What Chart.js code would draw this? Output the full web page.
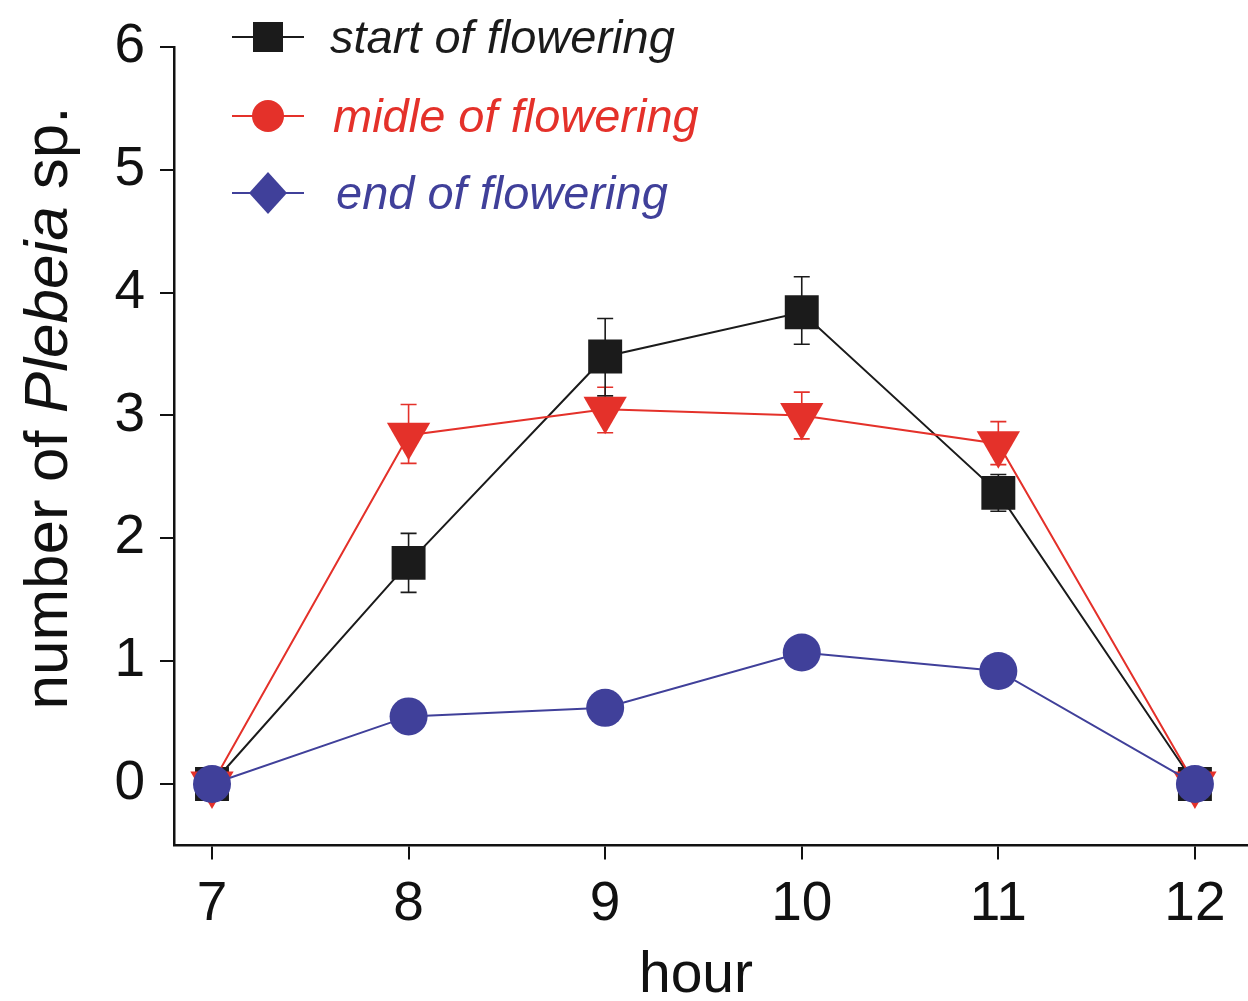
<!DOCTYPE html>
<html>
<head>
<meta charset="utf-8">
<script src="https://cdn.jsdelivr.net/npm/chart.js@4"></script>
<style>
html,body{margin:0;padding:0;background:#fff;}
#wrap{width:1248px;height:1001px;}
</style>
</head>
<body>
<div id="wrap"><canvas id="c" width="1248" height="1001"></canvas></div>
<script>
// ---- data ----
const hours = [7, 8, 9, 10, 11, 12];
const xTickValues = [7, 8, 9, 10, 11, 12];
const yTickValues = [0, 1, 2, 3, 4, 5, 6];

const seriesNames = ['start of flowering', 'midle of flowering', 'end of flowering'];

const startVals = [0, 1.80, 3.48, 3.84, 2.37, 0];
const startLow  = [0, 1.56, 3.16, 3.58, 2.22, 0];
const startHigh = [0, 2.04, 3.79, 4.13, 2.52, 0];

const midVals = [0, 2.84, 3.05, 3.00, 2.77, 0];
const midLow  = [0, 2.61, 2.86, 2.81, 2.60, 0];
const midHigh = [0, 3.09, 3.23, 3.19, 2.95, 0];

const endVals = [0, 0.55, 0.62, 1.07, 0.92, 0];

const xTitle = 'hour';

// ---- style ----
const BLACK = '#1b1b1b', RED = '#e4312a', BLUE = '#40409a';
const FONT = '"Liberation Sans", Arial, Helvetica, sans-serif';

function pts(vals) { return hours.map((h, i) => ({ x: h, y: vals[i] })); }

const errorBars = {
  id: 'errorBars',
  beforeDatasetsDraw(chart) {
    const ctx = chart.ctx, xs = chart.scales.x, ys = chart.scales.y;
    chart.data.datasets.forEach(ds => {
      if (!ds.errLow) return;
      ctx.save();
      ctx.strokeStyle = ds.borderColor;
      ctx.lineWidth = 1.6;
      hours.forEach((h, i) => {
        const lo = ds.errLow[i], hi = ds.errHigh[i];
        if (lo === hi) return;
        const px = xs.getPixelForValue(h);
        const y1 = ys.getPixelForValue(lo), y2 = ys.getPixelForValue(hi);
        ctx.beginPath();
        ctx.moveTo(px, y1); ctx.lineTo(px, y2);
        ctx.moveTo(px - 8, y1); ctx.lineTo(px + 8, y1);
        ctx.moveTo(px - 8, y2); ctx.lineTo(px + 8, y2);
        ctx.stroke();
      });
      ctx.restore();
    });
  }
};

const decorations = {
  id: 'decorations',
  afterDraw(chart) {
    const ctx = chart.ctx;
    ctx.save();
    // legend
    const rows = [
      { y: 37, color: BLACK, text: seriesNames[0], tx: 330, marker: 'square' },
      { y: 116, color: RED, text: seriesNames[1], tx: 333, marker: 'circle' },
      { y: 193, color: BLUE, text: seriesNames[2], tx: 336, marker: 'diamond' }
    ];
    rows.forEach(r => {
      ctx.strokeStyle = r.color; ctx.fillStyle = r.color; ctx.lineWidth = 2;
      ctx.beginPath(); ctx.moveTo(232, r.y); ctx.lineTo(304, r.y); ctx.stroke();
      const cx = 268;
      ctx.beginPath();
      if (r.marker === 'square') ctx.rect(cx - 15, r.y - 15, 30, 30);
      else if (r.marker === 'circle') ctx.arc(cx, r.y, 16, 0, Math.PI * 2);
      else { ctx.moveTo(cx, r.y - 21); ctx.lineTo(cx + 19, r.y); ctx.lineTo(cx, r.y + 21); ctx.lineTo(cx - 19, r.y); ctx.closePath(); }
      ctx.fill();
      ctx.font = 'italic 47px ' + FONT;
      ctx.textBaseline = 'alphabetic'; ctx.textAlign = 'left';
      ctx.fillText(r.text, r.tx, r.y + 16);
    });
    // x title
    ctx.fillStyle = '#111';
    ctx.font = '57px ' + FONT;
    ctx.textAlign = 'center';
    ctx.fillText(xTitle, 696, 992);
    // y title (mixed italic)
    ctx.translate(67, 408);
    ctx.rotate(-Math.PI / 2);
    const parts = [['number of ', false], ['Plebeia', true], [' sp.', false]];
    let total = 0;
    parts.forEach(p => { ctx.font = (p[1] ? 'italic ' : '') + '62px ' + FONT; total += ctx.measureText(p[0]).width; });
    let x = -total / 2;
    ctx.textAlign = 'left';
    parts.forEach(p => {
      ctx.font = (p[1] ? 'italic ' : '') + '62px ' + FONT;
      ctx.fillText(p[0], x, 0);
      x += ctx.measureText(p[0]).width;
    });
    ctx.restore();
  }
};

new Chart(document.getElementById('c'), {
  type: 'line',
  data: {
    datasets: [
      { label: seriesNames[2], data: pts(endVals), borderColor: BLUE, backgroundColor: BLUE, borderWidth: 2,
        pointStyle: 'circle', pointRadius: 19, pointBorderWidth: 0, order: 0 },
      { label: seriesNames[1], data: pts(midVals), borderColor: RED, backgroundColor: RED, borderWidth: 2,
        pointStyle: 'triangle', pointRotation: 180, pointRadius: 25, pointBorderWidth: 0, order: 1,
        errLow: midLow, errHigh: midHigh },
      { label: seriesNames[0], data: pts(startVals), borderColor: BLACK, backgroundColor: BLACK, borderWidth: 2,
        pointStyle: 'rect', pointRadius: 24, pointBorderWidth: 0, order: 2,
        errLow: startLow, errHigh: startHigh }
    ]
  },
  options: {
    responsive: false,
    animation: false,
    devicePixelRatio: 1,
    layout: { autoPadding: false, padding: { top: 47, right: 0, left: 0, bottom: 0 } },
    plugins: { legend: { display: false }, tooltip: { enabled: false } },
    elements: { line: { tension: 0 } },
    scales: {
      x: {
        type: 'linear', min: 6.8067, max: 12.27,
        afterBuildTicks: s => { s.ticks = xTickValues.map(v => ({ value: v })); },
        afterFit: s => { s.height = 155.6; s.paddingLeft = 0; s.paddingRight = 0; },
        grid: { drawOnChartArea: false, drawTicks: true, tickLength: 14, color: '#111', lineWidth: 2 },
        border: { display: true, color: '#111', width: 2.5 },
        ticks: { font: { family: FONT, size: 55 }, color: '#111', padding: 12, maxRotation: 0, autoSkip: false }
      },
      y: {
        type: 'linear', min: -0.5, max: 6,
        afterBuildTicks: s => { s.ticks = yTickValues.map(v => ({ value: v })); },
        afterFit: s => { s.width = 174; s.paddingTop = 0; s.paddingBottom = 0; },
        grid: { drawOnChartArea: false, drawTicks: true, tickLength: 14, color: '#111', lineWidth: 2 },
        border: { display: true, color: '#111', width: 2.5 },
        ticks: { font: { family: FONT, size: 55 }, color: '#111', padding: 15 }
      }
    }
  },
  plugins: [errorBars, decorations]
});
</script>
</body>
</html>
